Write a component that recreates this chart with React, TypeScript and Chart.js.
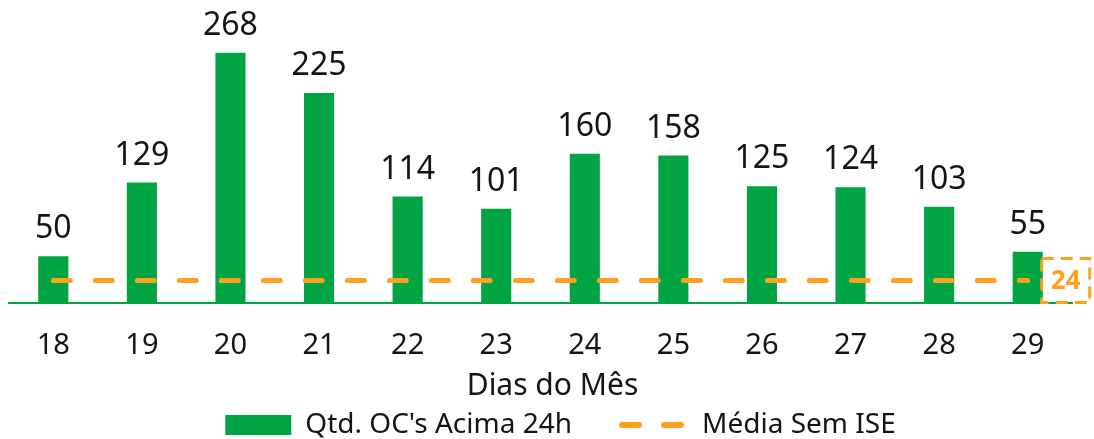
import { useEffect, useRef } from 'react';
import { Chart, registerables } from 'chart.js';

Chart.register(...registerables);

const days = ['18', '19', '20', '21', '22', '23', '24', '25', '26', '27', '28', '29'];
const ocsAbove24h = [50, 129, 268, 225, 114, 101, 160, 158, 125, 124, 103, 55];
const mediaSemISE = [24, 24, 24, 24, 24, 24, 24, 24, 24, 24, 24, 24];
const mediaLabel = '24';
const axisTitle = 'Dias do Mês';
const barLabel = "Qtd. OC's Acima 24h";
const lineLabel = 'Média Sem ISE';

const GREEN = '#00A443';
const ORANGE = '#FFA01F';
const TEXT = '#111614';
const FONT = '"Noto Sans", Roboto, sans-serif';

const overlayPlugin = {
  id: 'overlay',
  afterLayout(chart: any) {
    const lg = chart.legend;
    if (lg) {
      lg.left += 20;
      lg.right += 20;
    }
  },
  afterDatasetsDraw(chart: any) {
    const ctx = chart.ctx;
    const area = chart.chartArea;
    ctx.save();
    // bar value labels
    ctx.font = `32px ${FONT}`;
    ctx.fillStyle = TEXT;
    ctx.textAlign = 'center';
    ctx.textBaseline = 'alphabetic';
    const barMeta = chart.getDatasetMeta(0);
    barMeta.data.forEach((el: any, i: number) => {
      ctx.fillText(String(ocsAbove24h[i]), el.x, el.y - 18);
    });
    // line label box
    const lineMeta = chart.getDatasetMeta(1);
    const last = lineMeta.data[lineMeta.data.length - 1];
    const w = 48;
    const h = 44;
    const bx = last.x + 14;
    const by = last.y - h / 2;
    ctx.strokeStyle = ORANGE;
    ctx.lineWidth = 3;
    ctx.setLineDash([12, 7]);
    ctx.strokeRect(bx, by, w, h);
    ctx.setLineDash([]);
    ctx.fillStyle = ORANGE;
    ctx.font = `bold 26px ${FONT}`;
    ctx.textBaseline = 'middle';
    ctx.fillText(mediaLabel, bx + w / 2, last.y + 1);
    // axis title
    ctx.fillStyle = TEXT;
    ctx.font = `30px ${FONT}`;
    ctx.textBaseline = 'middle';
    const xs = chart.scales.x;
    ctx.fillText(axisTitle, (area.left + area.right) / 2 + 12, xs.bottom + 25);
    ctx.restore();
  },
};

export default function App() {
  const ref = useRef<HTMLCanvasElement>(null);
  useEffect(() => {
    if (!ref.current) return;
    const chart = new Chart(ref.current, {
      type: 'bar',
      data: {
        labels: days,
        datasets: [
          {
            type: 'bar',
            label: barLabel,
            data: ocsAbove24h,
            backgroundColor: GREEN,
            borderWidth: 0,
            categoryPercentage: 1,
            barPercentage: 0.34,
            order: 1,
          },
          {
            type: 'line',
            label: lineLabel,
            data: mediaSemISE,
            borderColor: ORANGE,
            backgroundColor: 'rgba(0,0,0,0)',
            borderWidth: 5,
            borderDash: [17, 25],
            borderCapStyle: 'round',
            pointRadius: 0,
            fill: false,
            order: 0,
          } as any,
        ],
      },
      options: {
        responsive: false,
        animation: false,
        layout: { padding: { left: 9, right: 22, top: 23, bottom: -10 } },
        scales: {
          x: {
            grid: { display: false, drawTicks: false },
            border: { display: true, color: GREEN, width: 2 },
            ticks: { color: TEXT, font: { family: FONT, size: 29 }, padding: 25 },
            afterFit: (scale: any) => {
              scale.height = 58;
            },
          },
          y: { display: false, min: 0, max: 300 },
        },
        plugins: {
          tooltip: { enabled: false },
          legend: {
            position: 'bottom',
            labels: {
              usePointStyle: true,
              pointStyleWidth: 66,
              boxHeight: 20,
              padding: 50,
              color: TEXT,
              font: { family: FONT, size: 28 },
              generateLabels: () => [
                {
                  text: barLabel,
                  fillStyle: GREEN,
                  strokeStyle: GREEN,
                  lineWidth: 0,
                  pointStyle: 'rect',
                  hidden: false,
                  datasetIndex: 0,
                  fontColor: TEXT,
                },
                {
                  text: lineLabel,
                  fillStyle: 'rgba(0,0,0,0)',
                  strokeStyle: ORANGE,
                  lineWidth: 6,
                  lineDash: [17, 25],
                  lineCap: 'round',
                  pointStyle: 'line',
                  hidden: false,
                  datasetIndex: 1,
                  fontColor: TEXT,
                },
              ] as any,
            },
          },
        },
      },
      plugins: [overlayPlugin],
    });
    return () => chart.destroy();
  }, []);
  return (
    <div style={{ position: 'absolute', left: 0, top: 0, width: 1094, height: 439 }}>
      <canvas ref={ref} width={1094} height={439} />
    </div>
  );
}
